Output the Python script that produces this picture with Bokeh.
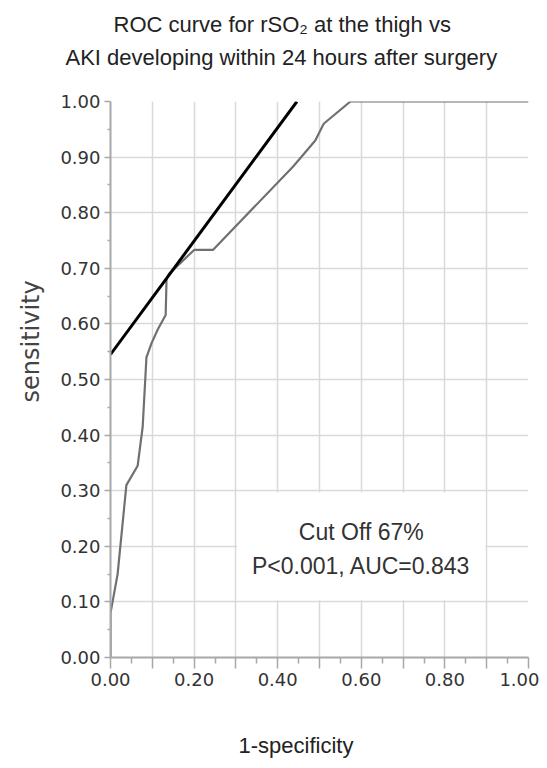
from bokeh.plotting import figure
from bokeh.models import Range1d, FixedTicker, Label, PrintfTickFormatter, Title
from bokeh.embed import file_html
from bokeh.resources import INLINE

# ROC curve (1-specificity, sensitivity)
roc_fpr = [0.0, 0.0, 0.017, 0.038, 0.065, 0.077, 0.086, 0.098, 0.113, 0.132, 0.134, 0.14,
           0.20, 0.245, 0.437, 0.49, 0.51, 0.574, 1.0]
roc_tpr = [0.0, 0.08, 0.15, 0.31, 0.345, 0.415, 0.54, 0.565, 0.59, 0.616, 0.68, 0.69,
           0.733, 0.733, 0.883, 0.93, 0.96, 1.0, 1.0]
# tangent line at the cut-off
tan_x = [0.0, 0.446]
tan_y = [0.545, 1.0]

x_ticks = [0.0, 0.1, 0.2, 0.3, 0.4, 0.5, 0.6, 0.7, 0.8, 0.9, 1.0]
x_minor = [0.05, 0.15, 0.25, 0.35, 0.45, 0.55, 0.65, 0.75, 0.85, 0.95]
y_ticks = [0.0, 0.1, 0.2, 0.3, 0.4, 0.5, 0.6, 0.7, 0.8, 0.9, 1.0]
y_minor = [0.05, 0.15, 0.25, 0.35, 0.45, 0.55, 0.65, 0.75, 0.85, 0.95]
x_hidden = [0.1, 0.3, 0.5, 0.7, 0.9]

title_1 = "ROC curve for rSO\u2082 at the thigh vs"
title_2 = "AKI developing  within 24 hours after surgery"
x_label = "1-specificity"
y_label = "sensitivity"
note_1 = "Cut Off 67%"
note_2 = "P<0.001, AUC=0.843"
box = dict(left=0.3, right=0.9, bottom=0.1, top=0.3)

SANS = "Liberation Sans"

p = figure(width=539, height=768, output_backend="svg", toolbar_location=None,
           x_range=Range1d(0, 1), y_range=Range1d(0, 1),
           min_border_left=110, min_border_right=11, min_border_top=101, min_border_bottom=111)
p.outline_line_color = None
p.background_fill_color = "white"
p.border_fill_color = "white"

for ax, ticks, minor in ((p.xaxis[0], x_ticks, x_minor), (p.yaxis[0], y_ticks, y_minor)):
    ax.ticker = FixedTicker(ticks=ticks, minor_ticks=minor)
    ax.formatter = PrintfTickFormatter(format="%.2f")
    ax.axis_line_color = "#a8a8a8"
    ax.axis_line_width = 2
    ax.major_tick_line_color = "#a8a8a8"
    ax.minor_tick_line_color = "#a8a8a8"
    ax.major_tick_line_width = 1.5
    ax.minor_tick_line_width = 1.5
    ax.major_tick_in = 0
    ax.minor_tick_in = 0
    ax.major_label_text_font = "DejaVu Sans"
    ax.major_label_text_font_size = "18px"
    ax.major_label_text_color = "#333333"
p.xaxis[0].major_tick_out = 11
p.xaxis[0].minor_tick_out = 6
p.yaxis[0].major_tick_out = 6
p.yaxis[0].minor_tick_out = 3
p.xaxis[0].major_label_overrides = {t: "" for t in x_hidden}
p.xaxis[0].major_label_standoff = 4
p.yaxis[0].major_label_standoff = 4

for g in (p.xgrid[0], p.ygrid[0]):
    g.grid_line_color = "#d9d9d9"
    g.grid_line_width = 1.5

# white annotation box covering the grid
p.quad(left=[box["left"] + 0.003], right=[box["right"] - 0.003],
       bottom=[box["bottom"] + 0.003], top=[box["top"] - 0.003],
       fill_color="white", line_color=None)

p.line(roc_fpr, roc_tpr, line_color="#707070", line_width=2.2)
p.line(tan_x, tan_y, line_color="black", line_width=3)

p.add_layout(Label(x=0.6, y=0.225, text=note_1, text_align="center", text_baseline="middle",
                   text_font=SANS, text_font_size="23px", text_color="#333333"))
p.add_layout(Label(x=0.6, y=0.165, text=note_2, text_align="center", text_baseline="middle",
                   text_font=SANS, text_font_size="23px", text_color="#333333"))

def title(text, **kw):
    return Title(text=text, text_font=kw.pop("font", SANS), text_font_style="normal",
                 text_color=kw.pop("color", "#222222"), **kw)

# above: spacer, line 2, line 1 (outward)
p.add_layout(title(" ", standoff=5, text_font_size="22px"), "above")
p.add_layout(title(title_2, align="left", offset=-45, standoff=0, text_font_size="22px"), "above")
p.add_layout(title(title_1, align="left", offset=3, standoff=12, text_font_size="22px"), "above")

# below: spacer, x label
p.add_layout(title(" ", standoff=12, text_font_size="22px"), "below")
p.add_layout(title(x_label, align="left", offset=128, standoff=6, text_font_size="22px"), "below")

# left: y label
p.add_layout(title(y_label, align="left", offset=255, standoff=26, font="DejaVu Sans",
                   color="#444444", text_font_size="24px"), "left")

open("out.html", "w").write(file_html(p, INLINE))
